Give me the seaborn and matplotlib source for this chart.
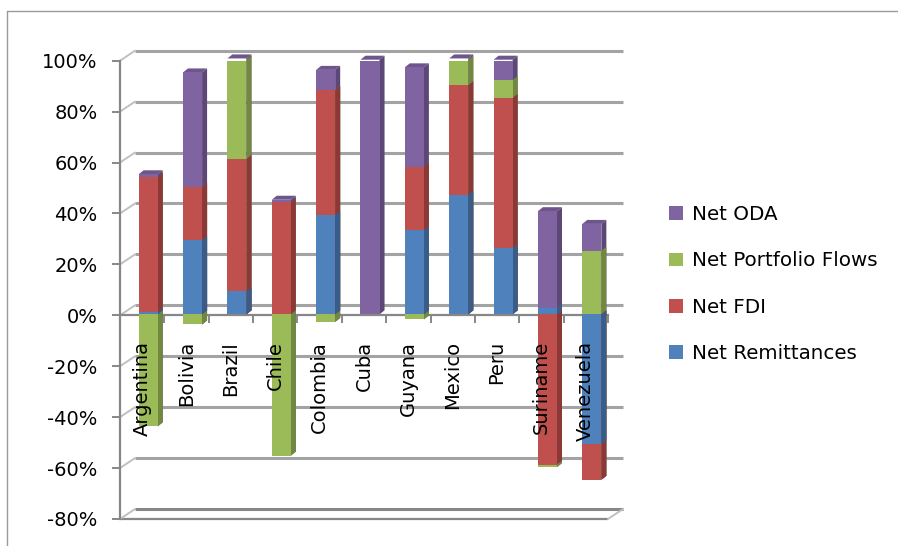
import numpy as np
import pandas as pd
import matplotlib
matplotlib.use("Agg")
import matplotlib.pyplot as plt
import seaborn as sns
from matplotlib import transforms as mtransforms
from matplotlib.patches import Polygon, Patch
from matplotlib.lines import Line2D

# ---------------- data ----------------
countries = ["Argentina", "Bolivia", "Brazil", "Chile", "Colombia", "Cuba",
             "Guyana", "Mexico", "Peru", "Suriname", "Venezuela"]
net_remittances = [0.01, 0.29, 0.09, 0.00, 0.39, 0.00, 0.33, 0.47, 0.26, 0.025, -0.51]
net_fdi = [0.53, 0.21, 0.52, 0.44, 0.49, 0.00, 0.25, 0.43, 0.59, -0.59, -0.14]
net_portfolio = [-0.44, -0.04, 0.39, -0.555, -0.03, 0.00, -0.02, 0.10, 0.07, -0.01, 0.25]
net_oda = [0.01, 0.45, 0.005, 0.01, 0.08, 1.00, 0.39, 0.005, 0.08, 0.38, 0.105]
series_names = ["Net Remittances", "Net FDI", "Net Portfolio Flows", "Net ODA"]
y_ticks = [-0.8, -0.6, -0.4, -0.2, 0.0, 0.2, 0.4, 0.6, 0.8, 1.0]
y_tick_labels = ["-80%", "-60%", "-40%", "-20%", "0%", "20%", "40%", "60%", "80%", "100%"]

# ---------------- style ----------------
colors = ["#4F81BD", "#C0504D", "#9BBB59", "#8064A2"]
side_colors = ["#385D8A", "#8C3836", "#71893F", "#5C4776"]
top_colors = ["#4470A6", "#A54441", "#86A24C", "#6E568C"]
axis_gray = "#878787"
grid_gray = "#a3a3a3"
diag_gray = "#c0c0c0"

sns.set_style("white")
plt.rcParams["font.family"] = ["DejaVu Sans"]
plt.rcParams["text.color"] = "black"
plt.rcParams["xtick.labelcolor"] = "black"
plt.rcParams["ytick.labelcolor"] = "black"

W, H = 898, 546
fig = plt.figure(figsize=(W / 100, H / 100), dpi=100)
ax = fig.add_axes([120 / W, 27 / H, 488 / W, 458.3 / H])

df = pd.DataFrame({series_names[0]: net_remittances,
                   series_names[1]: net_fdi,
                   series_names[2]: net_portfolio,
                   series_names[3]: net_oda}, index=countries)
vals = df[series_names].to_numpy()
pos = np.cumsum(np.clip(vals, 0, None), axis=1)
neg = np.cumsum(np.clip(vals, None, 0), axis=1)

# front faces: cumulative bars drawn from the top layer down
front = []  # (k, sign, i, patch)
for k in reversed(range(4)):
    for sign, arr in (("pos", pos[:, k]), ("neg", neg[:, k])):
        n0 = len(ax.patches)
        sns.barplot(x=countries, y=arr, order=countries, color=colors[k],
                    saturation=1, width=0.43, errorbar=None, ax=ax,
                    linewidth=0, zorder=4)
        for i, p in enumerate(ax.patches[n0:]):
            front.append((k, sign, i, p))

ax.set_xlim(-0.5, 10.5)
ax.set_ylim(-0.8, 1.0)
ax.set_xlabel("")
ax.set_ylabel("")

# bars sit half-way into the depth of the 3-D box
bar_shift = mtransforms.ScaledTranslation(6 / 100, 1 / 100, fig.dpi_scale_trans)
for _, _, _, p in front:
    p.set_transform(ax.transData + bar_shift)

# depth (side and top faces) derived from the drawn bars
DX, DY = 5, 4
ident = mtransforms.IdentityTransform()
top_layer = [max([k for k in range(4) if vals[i, k] > 0], default=None) for i in range(len(countries))]
for k, sign, i, p in front:
    if sign == "pos" and top_layer[i] == k:
        bb = p.get_window_extent()
        if bb.height > 0.5:
            x0, x1, yt = bb.x0, bb.x1, bb.y1
            ax.add_patch(Polygon([(x0, yt), (x1, yt), (x1 + DX, yt + DY), (x0 + DX, yt + DY)],
                                 closed=True, transform=ident, facecolor=top_colors[k],
                                 edgecolor="none", zorder=3.0, clip_on=False))
for k, sign, i, p in front:
    bb = p.get_window_extent()
    if bb.height > 0.3:
        x1, ylo, yhi = bb.x1, bb.y0, bb.y1
        ax.add_patch(Polygon([(x1, ylo), (x1 + DX, ylo + DY), (x1 + DX, yhi + DY), (x1, yhi)],
                             closed=True, transform=ident, facecolor=side_colors[k],
                             edgecolor="none", zorder=3.1, clip_on=False))

# back wall gridlines (offset into depth)
back = ax.transData + mtransforms.ScaledTranslation(15 / 100, 10 / 100, fig.dpi_scale_trans)
for t in y_ticks:
    ax.plot([-0.5, 10.5], [t, t], transform=back,
            color=axis_gray if t == y_ticks[0] else grid_gray,
            lw=2.2, zorder=1, clip_on=False, solid_capstyle="butt")
# floor front edge
ax.plot([-0.5, 10.5], [y_ticks[0], y_ticks[0]], color=axis_gray, lw=1.6,
        zorder=1, clip_on=False, solid_capstyle="butt")

# diagonal depth connectors
inv = ax.transData.inverted()
def diag(xd, yd):
    p0 = ax.transData.transform((xd, yd))
    p1 = inv.transform(p0 + np.array([15, 10]))
    ax.plot([xd, p1[0]], [yd, p1[1]], color=diag_gray, lw=1.4, zorder=1.5, clip_on=False)
for t in y_ticks:
    diag(-0.5, t)
diag(10.5, y_ticks[0])

# axes styling
for s in ("top", "right"):
    ax.spines[s].set_visible(False)
ax.spines["left"].set_color(axis_gray)
ax.spines["left"].set_linewidth(1.6)
ax.spines["bottom"].set_position(("data", 0))
ax.spines["bottom"].set_color(axis_gray)
ax.spines["bottom"].set_linewidth(1.6)
ax.spines["bottom"].set_zorder(2.5)

ax.set_yticks(y_ticks, labels=y_tick_labels)
ax.tick_params(axis="y", direction="out", length=5.5, width=1.4, color=axis_gray,
               pad=10.5, labelsize=14, left=True, labelcolor="black")
ax.set_xticks(range(len(countries)), labels=countries, rotation=90)
ax.set_xticks(np.arange(-0.5, len(countries)), minor=True)
ax.tick_params(axis="x", which="major", length=0, pad=18.5, labelsize=14, bottom=True,
               labelcolor="black")
ax.tick_params(axis="x", which="minor", direction="out", length=5.5, width=1.4,
               color=axis_gray, bottom=True)
ax.xaxis.set_zorder(6)   # category names are printed over the bars
ax.patch.set_alpha(0)

# legend (reverse order as in the original)
handles = [Patch(facecolor=colors[k], edgecolor="none", label=series_names[k]) for k in (3, 2, 1, 0)]
leg = fig.legend(handles=handles, loc="upper left", bbox_to_anchor=(669 / W, 1 - 205 / H),
                 frameon=False, fontsize=14.3, handlelength=0.7, handleheight=0.7,
                 handletextpad=0.45, labelspacing=1.38, borderpad=0, borderaxespad=0)
for txt in leg.get_texts():
    txt.set_color("black")

# chart-area border (right and bottom edges fall outside the image)
fig.add_artist(Line2D([7 / W, 1.0], [1 - 11 / H, 1 - 11 / H], transform=fig.transFigure,
                      color="#9a9a9a", lw=1.0))
fig.add_artist(Line2D([7 / W, 7 / W], [0.0, 1 - 11 / H], transform=fig.transFigure,
                      color="#9a9a9a", lw=1.0))

fig.savefig("out.png", dpi=100)
